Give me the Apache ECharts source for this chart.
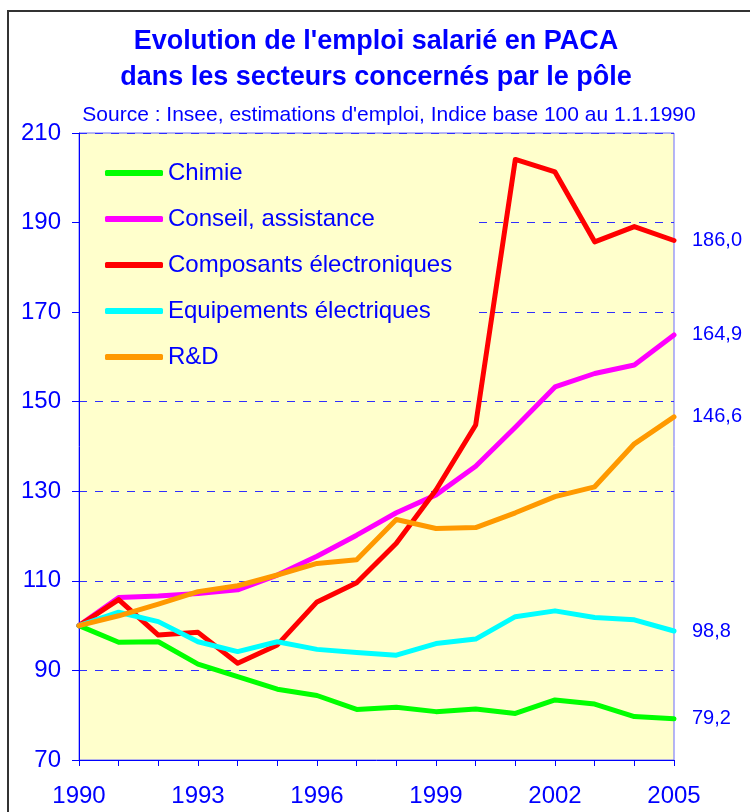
<!DOCTYPE html>
<html>
<head>
<meta charset="utf-8">
<script src="https://cdn.jsdelivr.net/npm/echarts@6/dist/echarts.min.js"></script>
<style>
html,body{margin:0;padding:0;background:#fff;}
#main{width:750px;height:812px;}
</style>
</head>
<body>
<div id="main"></div>
<script>
// indice base 100 au 1.1.1990
var years = ['1990','1991','1992','1993','1994','1995','1996','1997','1998','1999','2000','2001','2002','2003','2004','2005'];
var seriesNames = ['Chimie','Conseil, assistance','Composants électroniques','Equipements électriques','R&D'];
var chimie      = [100, 96.3, 96.4, 91.4, 88.6, 85.8, 84.4, 81.3, 81.8, 80.8, 81.4, 80.4, 83.4, 82.5, 79.7, 79.2];
var conseil     = [100, 106.3, 106.6, 107.2, 108.0, 111.3, 115.5, 120.2, 125.2, 129.2, 135.6, 144.3, 153.3, 156.3, 158.2, 164.9];
var composants  = [100, 105.8, 97.9, 98.5, 91.6, 95.7, 105.3, 109.6, 118.4, 130.3, 144.8, 204.1, 201.3, 185.7, 189.1, 186.0];
var equipements = [100, 103.0, 100.9, 96.4, 94.2, 96.4, 94.7, 94.0, 93.4, 96.0, 97.0, 102.0, 103.3, 101.8, 101.3, 98.8];
var rd          = [100, 102.2, 104.8, 107.6, 108.9, 111.3, 113.9, 114.7, 123.7, 121.7, 121.9, 125.2, 128.8, 131.0, 140.6, 146.6];
var yTicks = [70, 90, 110, 130, 150, 170, 190, 210];

var colors = ['#00ff00', '#ff00ff', '#ff0000', '#00ffff', '#ff9900'];
var allData = [chimie, conseil, composants, equipements, rd];
var bleu = '#0000ff';
var police = 'Liberation Sans, Arial, sans-serif';

var myChart = echarts.init(document.getElementById('main'));

var series = [];
for (var i = 0; i < allData.length; i++) {
    series.push({
        name: seriesNames[i],
        type: 'line',
        data: allData[i],
        showSymbol: false,
        symbol: 'none',
        color: colors[i],
        lineStyle: { width: 5, color: colors[i], cap: 'round', join: 'round' },
        endLabel: {
            show: true,
            distance: 18,
            color: bleu,
            fontSize: 20,
            fontFamily: police,
            formatter: function (p) {
                return p.value.toFixed(1).replace('.', ',');
            }
        },
        animation: false
    });
}

var option = {
    animation: false,
    backgroundColor: '#fff',
    title: [{
        text: "Evolution de l'emploi salarié en PACA\ndans les secteurs concernés par le pôle",
        left: 371,
        top: 19,
        textAlign: 'center',
        textStyle: { color: bleu, fontSize: 27, fontWeight: 'bold', fontFamily: police, lineHeight: 36 }
    }, {
        text: "Source : Insee, estimations d'emploi, Indice base 100 au 1.1.1990",
        left: 384,
        top: 100,
        textAlign: 'center',
        textStyle: { color: bleu, fontSize: 21, fontWeight: 'normal', fontFamily: police }
    }],
    legend: {
        orient: 'vertical',
        left: 80,
        top: 134,
        padding: [27, 23, 15, 25],
        backgroundColor: '#ffffcc',
        itemWidth: 58,
        itemHeight: 6,
        itemGap: 22,
        icon: 'roundRect',
        data: seriesNames,
        textStyle: { color: bleu, fontSize: 24, fontFamily: police, lineHeight: 24 }
    },
    grid: {
        left: 79,
        right: 76,
        top: 133,
        bottom: 52,
        show: true,
        backgroundColor: '#ffffcc',
        borderColor: '#6a6aff',
        borderWidth: 1
    },
    xAxis: {
        type: 'category',
        data: years,
        boundaryGap: false,
        axisLine: { lineStyle: { color: bleu, width: 1 } },
        axisTick: { interval: 0, length: 6, lineStyle: { color: bleu } },
        axisLabel: { interval: 2, color: bleu, fontSize: 24, fontFamily: police, margin: 24 },
        splitLine: { show: false }
    },
    yAxis: {
        type: 'value',
        min: yTicks[0],
        max: yTicks[yTicks.length - 1],
        interval: 20,
        axisLine: { show: true, lineStyle: { color: bleu, width: 1 } },
        axisTick: { show: true, length: 7, lineStyle: { color: bleu } },
        axisLabel: { color: bleu, fontSize: 24, fontFamily: police, margin: 18 },
        splitLine: { show: true, lineStyle: { color: '#2f2fff', type: [8, 8], width: 1 } }
    },
    graphic: [{
        type: 'rect',
        shape: { x: 8, y: 11, width: 800, height: 900 },
        style: { fill: 'none', stroke: '#333', lineWidth: 2 },
        silent: true,
        z: -1
    }],
    series: series
};
myChart.setOption(option);
</script>
</body>
</html>
